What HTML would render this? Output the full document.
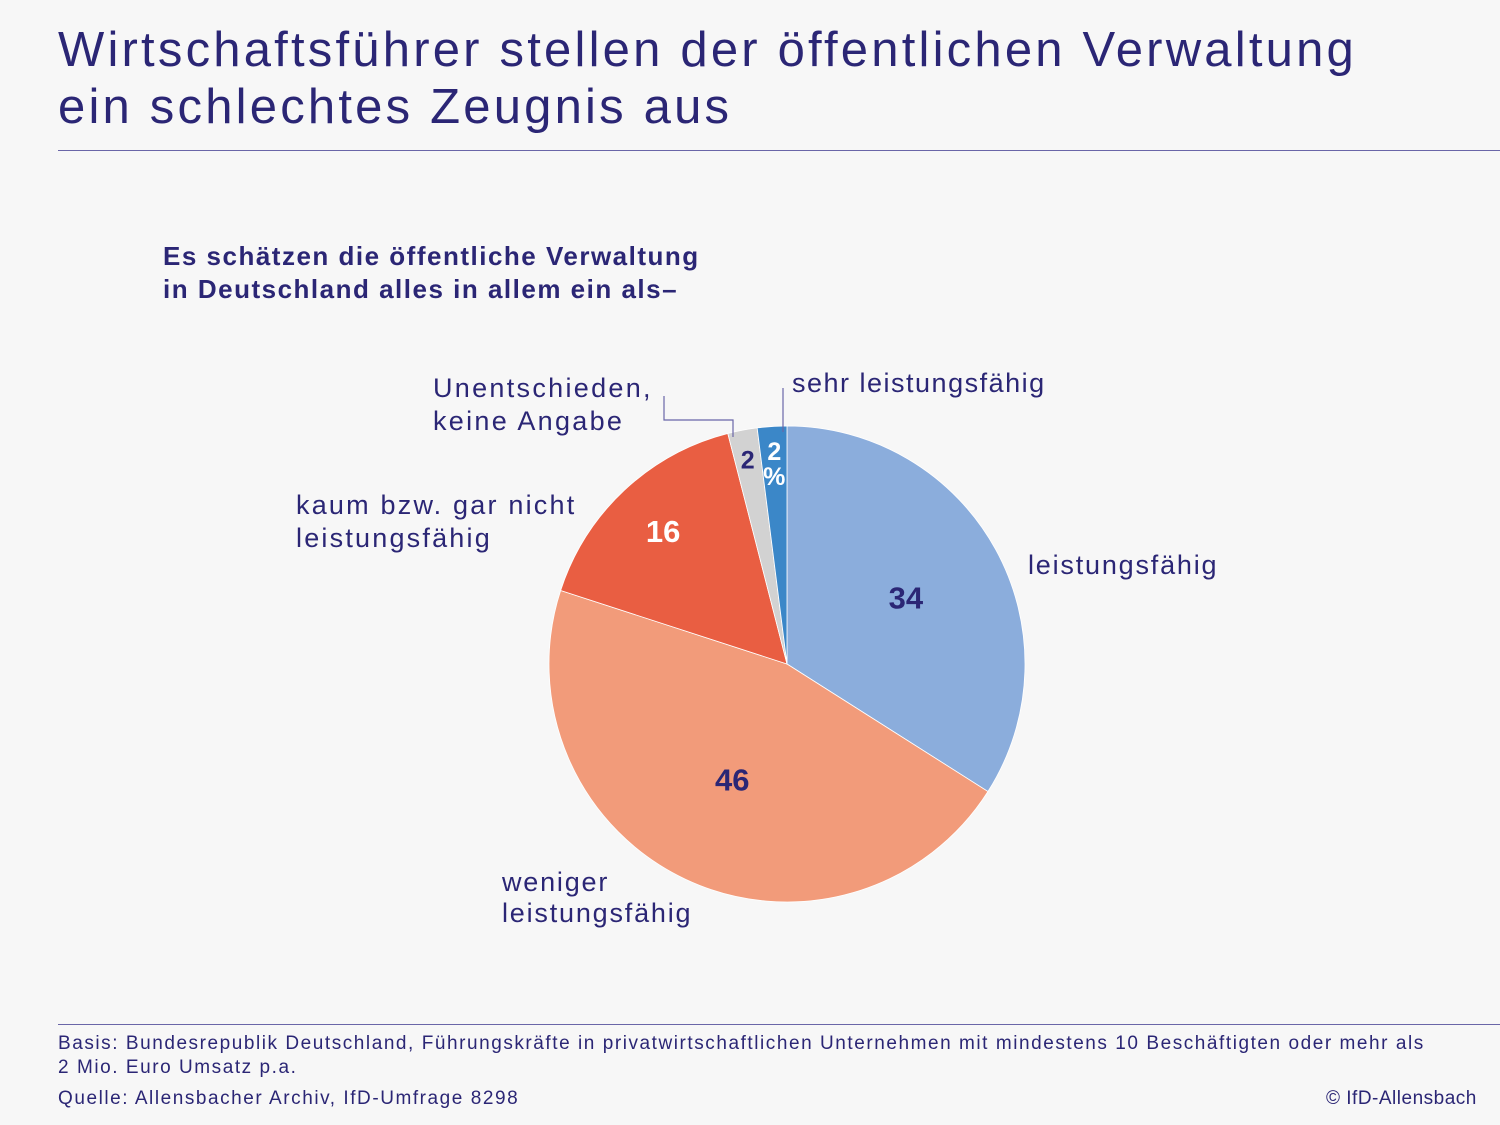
<!DOCTYPE html>
<html><head><meta charset="utf-8"><style>
body{margin:0;background:#f7f7f7;}
#root{position:relative;width:1500px;height:1125px;background:#f7f7f7;font-family:"Liberation Sans",sans-serif;color:#2b2675;overflow:hidden}
.t{position:absolute;white-space:nowrap}
.lb{font-size:27px;line-height:33px;letter-spacing:2px}
</style></head><body>
<div id="root">
<div class="t" style="left:58px;top:22px;font-size:49px;line-height:57px;letter-spacing:3.2px;color:#2b2675">Wirtschaftsführer stellen der öffentlichen Verwaltung<br>ein schlechtes Zeugnis aus</div>
<div style="position:absolute;left:58px;top:150px;width:1442px;height:1px;background:#6a66a8"></div>
<div class="t" style="left:163px;top:240px;font-size:26px;line-height:33px;letter-spacing:1.5px;font-weight:bold;color:#2b2675">Es schätzen die öffentliche Verwaltung<br>in Deutschland alles in allem ein als–</div>
<svg id="pie" width="1500" height="1125" style="position:absolute;left:0;top:0"></svg>
<div class="t lb" style="left:433px;top:372px;letter-spacing:2.3px">Unentschieden,<br>keine Angabe</div>
<div class="t lb" style="left:792px;top:367px;letter-spacing:1.5px">sehr leistungsfähig</div>
<div class="t lb" style="left:296px;top:489px;letter-spacing:2.2px">kaum bzw. gar nicht<br>leistungsfähig</div>
<div class="t lb" style="left:1028px;top:549px;letter-spacing:1.8px">leistungsfähig</div>
<div class="t lb" style="left:502px;top:867px;line-height:31px;letter-spacing:1.8px">weniger<br>leistungsfähig</div>
<div style="position:absolute;left:58px;top:1024px;width:1442px;height:1px;background:#6a66a8"></div>
<div class="t" style="left:58px;top:1032px;font-size:19px;line-height:24px;letter-spacing:1.55px">Basis: Bundesrepublik Deutschland, Führungskräfte in privatwirtschaftlichen Unternehmen mit mindestens 10 Beschäftigten oder mehr als<br>2 Mio. Euro Umsatz p.a.</div>
<div class="t" style="left:58px;top:1087px;font-size:19px;line-height:24px;letter-spacing:1.55px">Quelle: Allensbacher Archiv, IfD-Umfrage 8298</div>
<div class="t" style="left:1326px;top:1087px;font-size:19px;line-height:24px;letter-spacing:0.5px">© IfD-Allensbach</div>
</div>
<script>
const categories=["leistungsfähig","weniger leistungsfähig","kaum bzw. gar nicht leistungsfähig","Unentschieden, keine Angabe","sehr leistungsfähig"];
const values=[34,46,16,2,2];
const valueLabels=["34","46","16","2","2\n%"];
const colors=["#8baddc","#f29b7a","#e95e42","#d2d2d2","#3b87c8"];
const textColors=["#2b2675","#2b2675","#ffffff","#2b2675","#ffffff"];
const svg=document.getElementById('pie');
const NS="http://www.w3.org/2000/svg";
const cx=787,cy=664,r=238;
const total=values.reduce((a,b)=>a+b,0);
function pt(frac,rad){const a=frac*2*Math.PI;return [cx+rad*Math.sin(a),cy-rad*Math.cos(a)];}
const labelRad=[0.57,0.54,0.76,0.88,0.85];
let acc=0;
values.forEach((v,i)=>{
  const f0=acc/total,f1=(acc+v)/total;acc+=v;
  const [x0,y0]=pt(f0,r),[x1,y1]=pt(f1,r);
  const p=document.createElementNS(NS,'path');
  p.setAttribute('d',`M${cx},${cy}L${x0},${y0}A${r},${r} 0 ${f1-f0>0.5?1:0} 1 ${x1},${y1}Z`);
  p.setAttribute('fill',colors[i]);p.setAttribute('stroke','#ffffff');p.setAttribute('stroke-width','0.8');
  
  
  svg.appendChild(p);
  const [lx,ly]=pt((f0+f1)/2,r*labelRad[i]);
  const lines=valueLabels[i].split('\n');
  lines.forEach((s,k)=>{
    const t=document.createElementNS(NS,'text');
    t.setAttribute('x',lx);t.setAttribute('y',ly+10-(lines.length-1)*12+k*25);
    t.setAttribute('text-anchor','middle');t.setAttribute('font-family','Liberation Sans, sans-serif');
    t.setAttribute('font-weight','bold');t.setAttribute('font-size',i>=3?'25':'31');t.setAttribute('fill',textColors[i]);
    t.textContent=s;
    
    
    svg.appendChild(t);
  });
});
const l1=document.createElementNS(NS,'polyline');
l1.setAttribute('points','664,396 664,420 733,420 733,437');l1.setAttribute('fill','none');l1.setAttribute('stroke','#6a66a8');l1.setAttribute('stroke-width','1.2');


svg.appendChild(l1);
const l2=document.createElementNS(NS,'line');
l2.setAttribute('x1','783');l2.setAttribute('y1','388');l2.setAttribute('x2','783');l2.setAttribute('y2','432');l2.setAttribute('stroke','#6a66a8');l2.setAttribute('stroke-width','1.2');


svg.appendChild(l2);
</script>
</body></html>
